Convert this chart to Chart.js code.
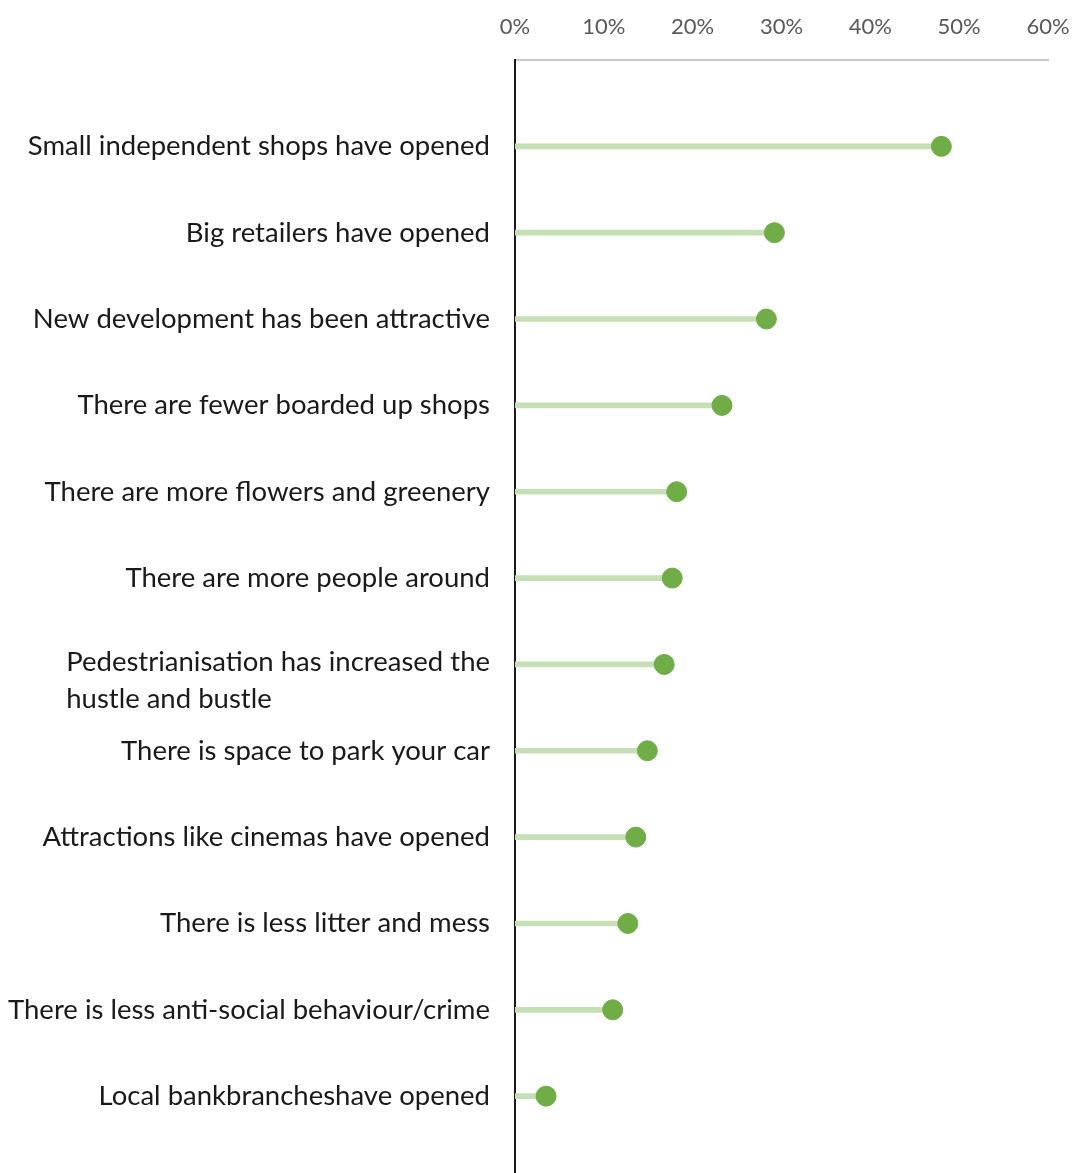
<!DOCTYPE html>
<html>
<head>
<meta charset="utf-8">
<script src="https://cdn.jsdelivr.net/npm/chart.js@4"></script>
<style>
  html, body { margin: 0; padding: 0; background: #ffffff; overflow: hidden; }
  canvas { display: block; }
</style>
</head>
<body>
<canvas id="c" width="1074" height="1173" style="width:1074px;height:1173px;"></canvas>
<script>
const categories = [
  "Small independent shops have opened",
  "Big retailers have opened",
  "New development has been attractive",
  "There are fewer boarded up shops",
  "There are more flowers and greenery",
  "There are more people around",
  ["Pedestrianisation has increased the", "hustle and bustle"],
  "There is space to park your car",
  "Attractions like cinemas have opened",
  "There is less litter and mess",
  "There is less anti-social behaviour/crime",
  "Local bankbrancheshave opened"
];
const values = [48, 29.2, 28.3, 23.3, 18.2, 17.7, 16.8, 14.9, 13.6, 12.7, 11.0, 3.5];
const xTicks = [0, 10, 20, 30, 40, 50, 60];

const positions = categories.map((_, i) => i + 1);
const stemData = values.map((v, i) => ({ x: v, y: positions[i] }));
const dotData = values.map((v, i) => ({ x: v, y: positions[i] }));

const FONT = "Lato, 'Open Sans', sans-serif";

const labelPlugin = {
  id: 'catLabels',
  afterDraw(chart) {
    const ctx = chart.ctx;
    const ys = chart.scales.y;
    const rightX = chart.chartArea.left - 25;
    ctx.save();
    ctx.font = "27.5px " + FONT;
    ctx.fillStyle = "#1a1a1a";
    ctx.textBaseline = "middle";
    categories.forEach((lab, i) => {
      const py = ys.getPixelForValue(positions[i]);
      if (Array.isArray(lab)) {
        const w = Math.max(...lab.map(l => ctx.measureText(l).width));
        ctx.textAlign = "left";
        lab.forEach((l, k) => ctx.fillText(l, rightX - w, py - 2 + k * 37));
      } else {
        ctx.textAlign = "right";
        ctx.fillText(lab, rightX, py);
      }
    });
    ctx.restore();
  }
};

new Chart(document.getElementById('c'), {
  type: 'bar',
  data: {
    datasets: [
      {
        type: 'bar',
        data: stemData,
        backgroundColor: '#c5e0b4',
        barThickness: 5,
        borderWidth: 0,
        order: 2
      },
      {
        type: 'scatter',
        data: dotData,
        backgroundColor: '#70ad47',
        borderColor: '#70ad47',
        pointRadius: 10,
        pointHoverRadius: 10,
        order: 1
      }
    ]
  },
  options: {
    indexAxis: 'y',
    responsive: false,
    devicePixelRatio: 1,
    animation: false,
    layout: { autoPadding: false, padding: { left: 0, right: 26, top: 0, bottom: 0 } },
    plugins: {
      legend: { display: false },
      tooltip: { enabled: false }
    },
    scales: {
      x: {
        type: 'linear',
        position: 'top',
        min: 0,
        max: 60,
        afterBuildTicks(scale) { scale.ticks = xTicks.map(v => ({ value: v })); },
        grid: { display: false, drawTicks: false },
        border: { display: true, color: '#c8c8c8', width: 2 },
        ticks: {
          color: '#595959',
          font: { family: FONT, size: 22 },
          padding: 20,
          callback: v => v + '%'
        },
        afterFit(scale) { scale.height = 60; scale.paddingRight = 0; scale.paddingLeft = 0; }
      },
      y: {
        type: 'linear',
        reverse: true,
        offset: false,
        min: 0,
        max: 12.89,
        grid: { display: false, drawTicks: false },
        border: { display: true, color: '#1a1a1a', width: 2 },
        ticks: { display: false },
        afterFit(scale) { scale.width = 515; }
      }
    }
  },
  plugins: [labelPlugin]
});
</script>
</body>
</html>
